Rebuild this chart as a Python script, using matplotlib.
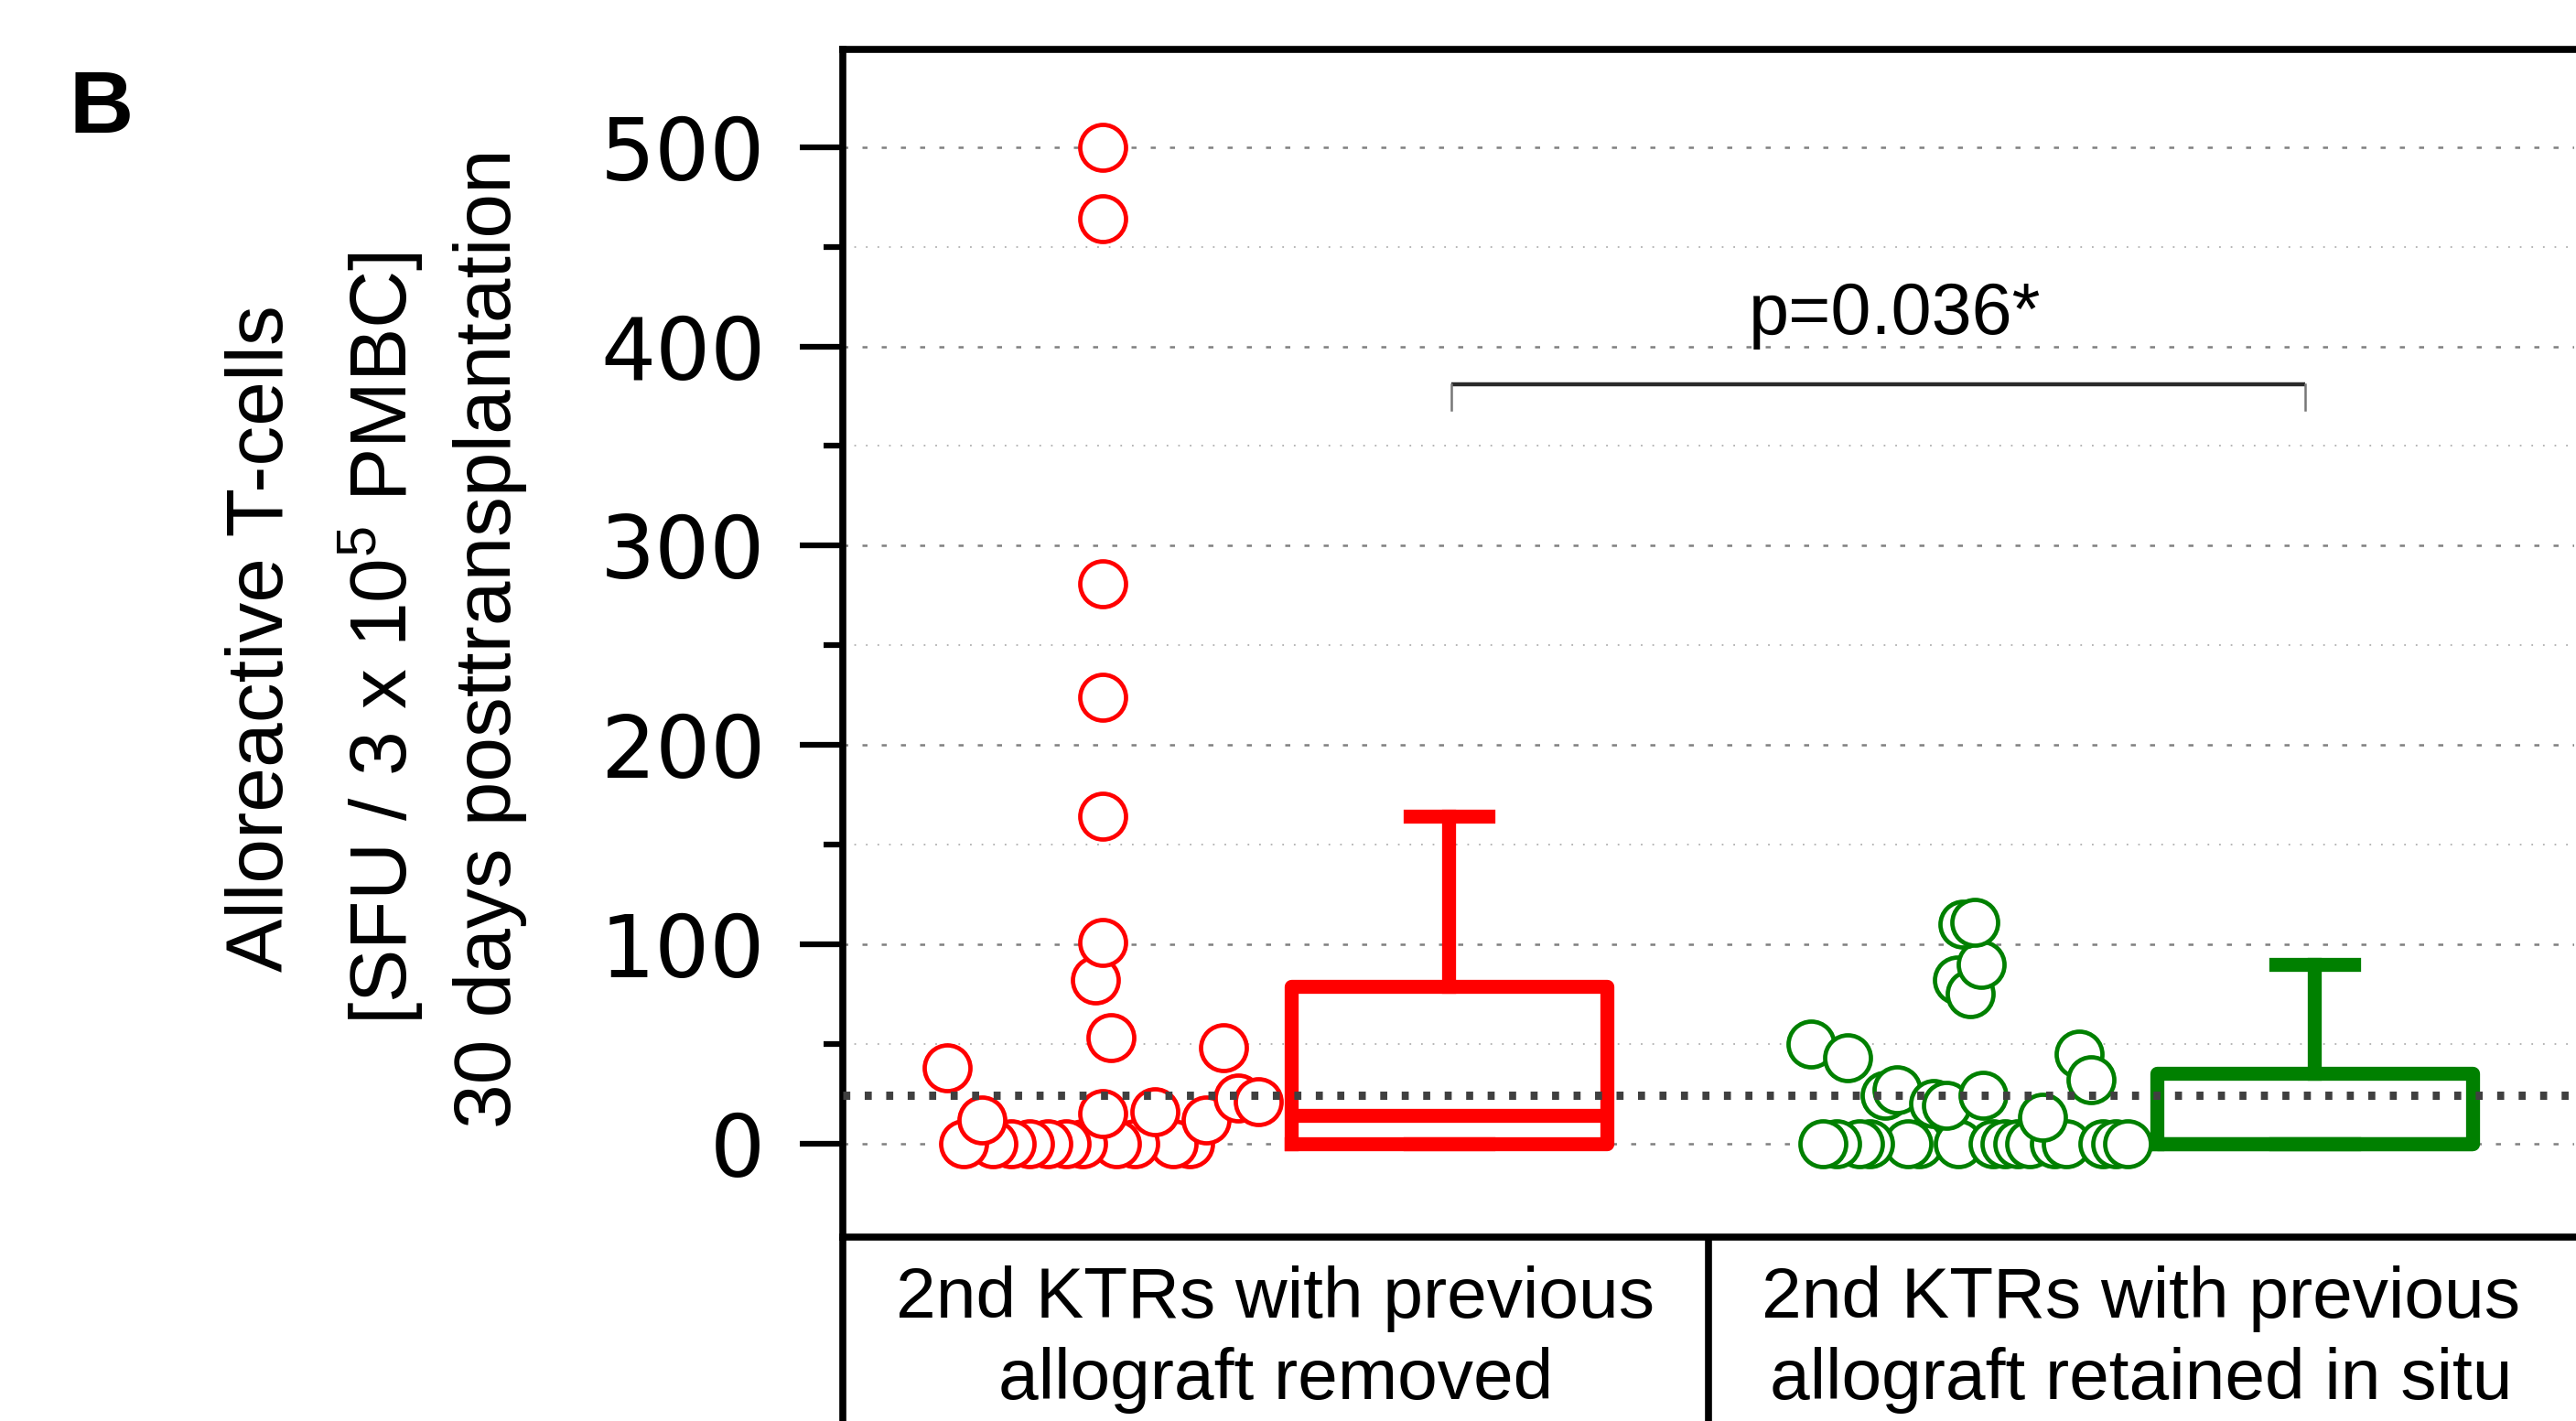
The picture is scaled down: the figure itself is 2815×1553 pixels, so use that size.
import matplotlib.pyplot as plt
from matplotlib.ticker import FixedLocator, MultipleLocator

plt.rcParams['font.family'] = ['Liberation Sans', 'DejaVu Sans']
plt.rcParams['mathtext.fontset'] = 'custom'
plt.rcParams['mathtext.rm'] = 'Liberation Sans'
plt.rcParams['mathtext.it'] = 'Liberation Sans:italic'

groups = ['2nd KTRs with previous\nallograft removed',
          '2nd KTRs with previous\nallograft retained in situ']

# SFU values per patient, and the horizontal jitter
red_values = [0, 0, 0, 0, 0, 0, 0, 0, 0, 0, 0,
              12, 15, 16, 12, 23, 21,
              38, 48, 82, 53, 101, 164, 224, 281, 464, 500]
red_jitter = [0.201, 0.163, 0.074, 0.032, -0.046, -0.084, -0.126, -0.169, -0.211, -0.253, -0.320,
              -0.278, 0.0, 0.120, 0.240, 0.314, 0.360,
              -0.359, 0.279, -0.017, 0.019, 0.0, 0.0, 0.0, 0.0, 0.0, 0.0]

green_values = [0, 0, 0, 0, 0, 0, 0, 0, 0, 0, 0, 0, 0, 0, 0, 0,
                50, 43, 24, 27, 20, 19, 24, 13, 45, 32, 82, 75, 90, 110, 111]
green_jitter = [-0.114, -0.139, -0.227, -0.252, -0.305, -0.336, -0.023, 0.058, 0.086, 0.115,
                0.143, 0.199, 0.227, 0.312, 0.340, 0.368,
                -0.363, -0.279, -0.192, -0.164, -0.079, -0.051, 0.034, 0.171, 0.256, 0.284,
                -0.026, 0.005, 0.030, -0.012, 0.016]

# box statistics (median, quartiles, whisker ends)
red_box = dict(med=14, q1=0, q3=79, whislo=0, whishi=164)
green_box = dict(med=0, q1=0, q3=35, whislo=0, whishi=90)

threshold = 24
p_text = 'p=0.036*'

RED = '#ff0000'
GREEN = '#008000'

fig = plt.figure(figsize=(28.15, 15.53), dpi=100)
ax = fig.add_axes([921 / 2815, 201 / 1553, 1892 / 2815, 1298 / 1553])
ax.set_xlim(0, 4)
ax.set_ylim(-47, 549)

# grid
ax.set_axisbelow(True)
ax.yaxis.set_major_locator(FixedLocator([0, 100, 200, 300, 400, 500]))
ax.yaxis.set_minor_locator(MultipleLocator(50))
ax.grid(axis='y', which='major', color='#808080', lw=1.8, linestyle=(0, (2.2, 6.2)))
ax.grid(axis='y', which='minor', color='#b0b0b0', lw=1.3, linestyle=(0, (1, 6)))

# scatter
ax.scatter([0.6 + j for j in red_jitter], red_values, s=36 ** 2, facecolors='white',
           edgecolors=RED, linewidths=3.4, zorder=3)
ax.scatter([2.6 + j for j in green_jitter], green_values, s=36 ** 2, facecolors='white',
           edgecolors=GREEN, linewidths=3.4, zorder=3)

# boxes
for stats, pos, col in [(red_box, 1.4, RED), (green_box, 3.4, GREEN)]:
    lp = dict(color=col, linewidth=11)
    ax.bxp([stats], positions=[pos], widths=0.73, capwidths=0.18, showfliers=False,
           boxprops=lp, whiskerprops=lp, capprops=lp, medianprops=lp,
           manage_ticks=False, zorder=4)

# threshold line
ax.axhline(threshold, color='#404040', lw=6.5, linestyle=(0, (0.85, 1.75)),
           dash_capstyle='butt', zorder=5)

# significance bracket
ax.plot([1.406, 3.379], [381, 381], color='#2a2a2a', lw=3.2, zorder=5, solid_capstyle='butt')
ax.plot([1.406, 1.406], [381, 368], color='#777777', lw=1.8, zorder=5)
ax.plot([3.379, 3.379], [381, 368], color='#777777', lw=1.8, zorder=5)
ax.text(2.43, 406, p_text, ha='center', va='baseline', fontsize=57)

# spines
for s in ['left', 'top', 'bottom']:
    ax.spines[s].set_linewidth(5.5)
ax.spines['right'].set_visible(False)

# y ticks
ax.set_yticklabels(['0', '100', '200', '300', '400', '500'])
ax.tick_params(axis='y', which='major', length=34, width=4.5, pad=27, labelsize=68)
ax.tick_params(axis='y', which='minor', length=15, width=4.5)
for t in ax.get_yticklabels():
    t.set_fontfamily('DejaVu Sans')

# x: category dividers as long ticks, labels at minor ticks
ax.xaxis.set_major_locator(FixedLocator([0, 2]))
ax.xaxis.set_minor_locator(FixedLocator([1, 3]))
ax.set_xticklabels(['', ''])
ax.set_xticklabels(groups, minor=True, linespacing=1.28)
ax.tick_params(axis='x', which='major', length=160, width=5.5, direction='out')
ax.tick_params(axis='x', which='minor', length=0, pad=22, labelsize=56.5)

# y label lines
ylab = ['Alloreactive T-cells',
        '[SFU / 3 x 10$^{5}$ PMBC]',
        '30 days posttransplantation']
for txt, xp in zip(ylab, [287, 417, 536]):
    fig.text(xp / 2815, 1 - 698 / 1553, txt, rotation=90, ha='center', va='center',
             fontsize=63)

fig.text(75 / 2815, 1 - 75 / 1553, 'B', fontsize=70, fontweight='bold', va='top', ha='left')

fig.savefig('out.png', dpi=100)
